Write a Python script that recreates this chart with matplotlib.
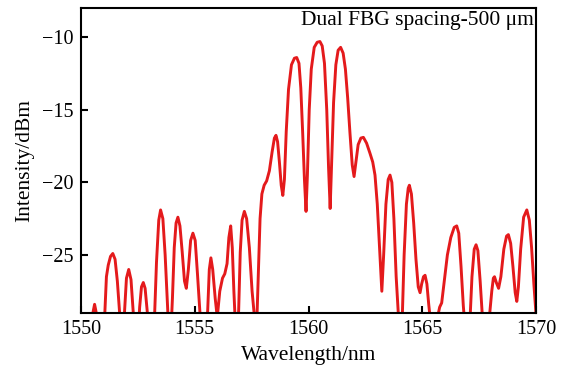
import matplotlib
matplotlib.use('Agg')
import matplotlib.pyplot as plt

# spectrum (wavelength in nm, intensity in dBm)
wavelength = [
    1550.0, 1550.40, 1550.50, 1550.60, 1550.70, 1550.80, 1550.95,
    1551.05, 1551.12, 1551.2, 1551.3, 1551.4, 1551.5, 1551.6, 1551.7, 1551.78,
    1551.85, 1551.92, 1552.0, 1552.1, 1552.2, 1552.3, 1552.38,
    1552.5, 1552.58, 1552.66, 1552.74, 1552.82, 1552.92, 1553.0,
    1553.15, 1553.24, 1553.32, 1553.42, 1553.5, 1553.6, 1553.7, 1553.82, 1553.9,
    1553.95, 1554.02, 1554.1, 1554.18, 1554.26, 1554.35, 1554.45, 1554.55, 1554.63,
    1554.72, 1554.82, 1554.92, 1555.02, 1555.12, 1555.23, 1555.3,
    1555.48, 1555.57, 1555.64, 1555.71, 1555.79, 1555.9, 1555.99,
    1556.1, 1556.22, 1556.32, 1556.42, 1556.5, 1556.58, 1556.65, 1556.72, 1556.77, 1556.82,
    1556.88, 1556.93, 1557.0, 1557.08, 1557.18, 1557.28, 1557.4, 1557.52, 1557.62, 1557.68,
    1557.72, 1557.78, 1557.87, 1557.95, 1558.05, 1558.16, 1558.28, 1558.4, 1558.5, 1558.57,
    1558.64, 1558.72, 1558.8, 1558.87, 1558.94, 1559.02, 1559.12, 1559.25, 1559.38, 1559.48,
    1559.58, 1559.66, 1559.74, 1559.82, 1559.89, 1559.95, 1560.03, 1560.12, 1560.25, 1560.38,
    1560.5, 1560.6, 1560.7, 1560.8, 1560.88, 1560.95, 1561.02, 1561.1, 1561.2, 1561.3,
    1561.41, 1561.52, 1561.62, 1561.72, 1561.82, 1561.92, 1562.0, 1562.08, 1562.18, 1562.3,
    1562.41, 1562.55, 1562.7, 1562.82, 1562.92, 1563.02, 1563.12, 1563.22, 1563.3, 1563.4,
    1563.5, 1563.58, 1563.66, 1563.75, 1563.85, 1563.95, 1564.0, 1564.07, 1564.12, 1564.2,
    1564.3, 1564.38, 1564.43, 1564.52, 1564.62, 1564.72, 1564.82, 1564.9, 1564.97, 1565.05,
    1565.12, 1565.2, 1565.28, 1565.34, 1565.4,
    1565.6, 1565.68, 1565.76, 1565.85, 1565.95, 1566.1, 1566.25, 1566.4, 1566.51, 1566.6,
    1566.7, 1566.8, 1566.84, 1566.9,
    1567.05, 1567.1, 1567.18, 1567.28, 1567.36, 1567.44, 1567.54, 1567.64, 1567.7,
    1567.88, 1567.95, 1568.05, 1568.12, 1568.17, 1568.25, 1568.35, 1568.45, 1568.58, 1568.7,
    1568.78, 1568.88, 1568.98, 1569.08, 1569.15, 1569.22, 1569.32, 1569.45, 1569.59, 1569.7,
    1569.8, 1569.9, 1570.0,
]
intensity = [
    -32, -31, -29.2, -28.4, -29.2, -31, -31,
    -29.0, -26.5, -25.7, -25.1, -24.9, -25.3, -26.8, -29.0, -31,
    -31, -28.8, -26.6, -26.0, -26.7, -29.0, -31,
    -31, -28.6, -27.2, -26.9, -27.3, -29.0, -31,
    -31, -29.0, -25.5, -22.6, -21.9, -22.5, -25.0, -29.0, -31,
    -30.5, -28.0, -24.5, -22.8, -22.4, -23.0, -24.8, -26.8, -27.3,
    -26.0, -24.0, -23.5, -24.0, -26.3, -29.0, -31,
    -31, -28.8, -26.0, -25.2, -26.0, -28.0, -29.3,
    -27.5, -26.6, -26.3, -25.6, -23.8, -23.0, -24.5, -27.5, -29.2, -31,
    -30.5, -28.8, -24.8, -22.6, -22.0, -22.5, -24.5, -27.5, -29.2, -31,
    -30.0, -27.0, -22.5, -20.8, -20.2, -19.9, -19.2, -17.9, -16.95, -16.76,
    -17.2, -18.6, -20.2, -20.9, -19.8, -16.5, -13.6, -11.9, -11.45, -11.4,
    -11.8, -13.5, -16.5, -19.8, -22.0, -19.5, -15.0, -12.2, -10.7, -10.35,
    -10.3, -10.6, -11.8, -15.0, -19.0, -21.8, -18.5, -14.5, -11.9, -10.9,
    -10.7, -11.1, -12.2, -14.2, -16.6, -18.8, -19.6, -18.6, -17.4, -16.95,
    -16.9, -17.3, -18.0, -18.6, -19.5, -21.5, -24.5, -27.5, -25.0, -21.5,
    -19.8, -19.5, -20.0, -22.5, -26.5, -29.2, -31, -31, -29.2, -25.0,
    -21.5, -20.4, -20.2, -20.8, -22.8, -25.3, -27.2, -27.6, -27.0, -26.5,
    -26.4, -27.0, -28.4, -29.3, -31,
    -31, -29.2, -28.6, -28.3, -27.0, -25.0, -23.8, -23.1, -23.0, -23.5,
    -25.8, -28.5, -29.3, -31,
    -31, -29.3, -26.5, -24.6, -24.3, -24.7, -26.8, -29.3, -31,
    -31, -29.2, -27.5, -26.6, -26.5, -26.9, -27.3, -26.5, -24.6, -23.7,
    -23.6, -24.2, -25.8, -27.6, -28.2, -27.2, -24.6, -22.4, -21.9, -22.6,
    -24.5, -27.0, -29.2,
]

xticks = [1550, 1555, 1560, 1565, 1570]
yticks = [-25, -20, -15, -10]

plt.rcParams['font.family'] = ['Liberation Serif', 'DejaVu Serif']

fig = plt.figure(figsize=(5.62, 3.70), dpi=100)
ax = fig.add_axes([0.144, 0.154, 0.81, 0.824])

ax.plot(wavelength, intensity, color='#e41a1c', lw=2.1,
        solid_joinstyle='round', solid_capstyle='round')

ax.set_xlim(1550, 1570)
ax.set_ylim(-29, -8)
ax.set_xticks(xticks)
ax.set_yticks(yticks)
ax.tick_params(direction='in', length=5, width=1.5, labelsize=14.5, pad=5)
for s in ax.spines.values():
    s.set_linewidth(1.5)

ax.set_xlabel('Wavelength/nm', fontsize=15.5, labelpad=5)
ax.set_ylabel('Intensity/dBm', fontsize=15.5, labelpad=6)
ax.text(0.995, 0.99, 'Dual FBG spacing-500 μm', transform=ax.transAxes,
        ha='right', va='top', fontsize=15.5)

fig.savefig('out.png', dpi=100)
